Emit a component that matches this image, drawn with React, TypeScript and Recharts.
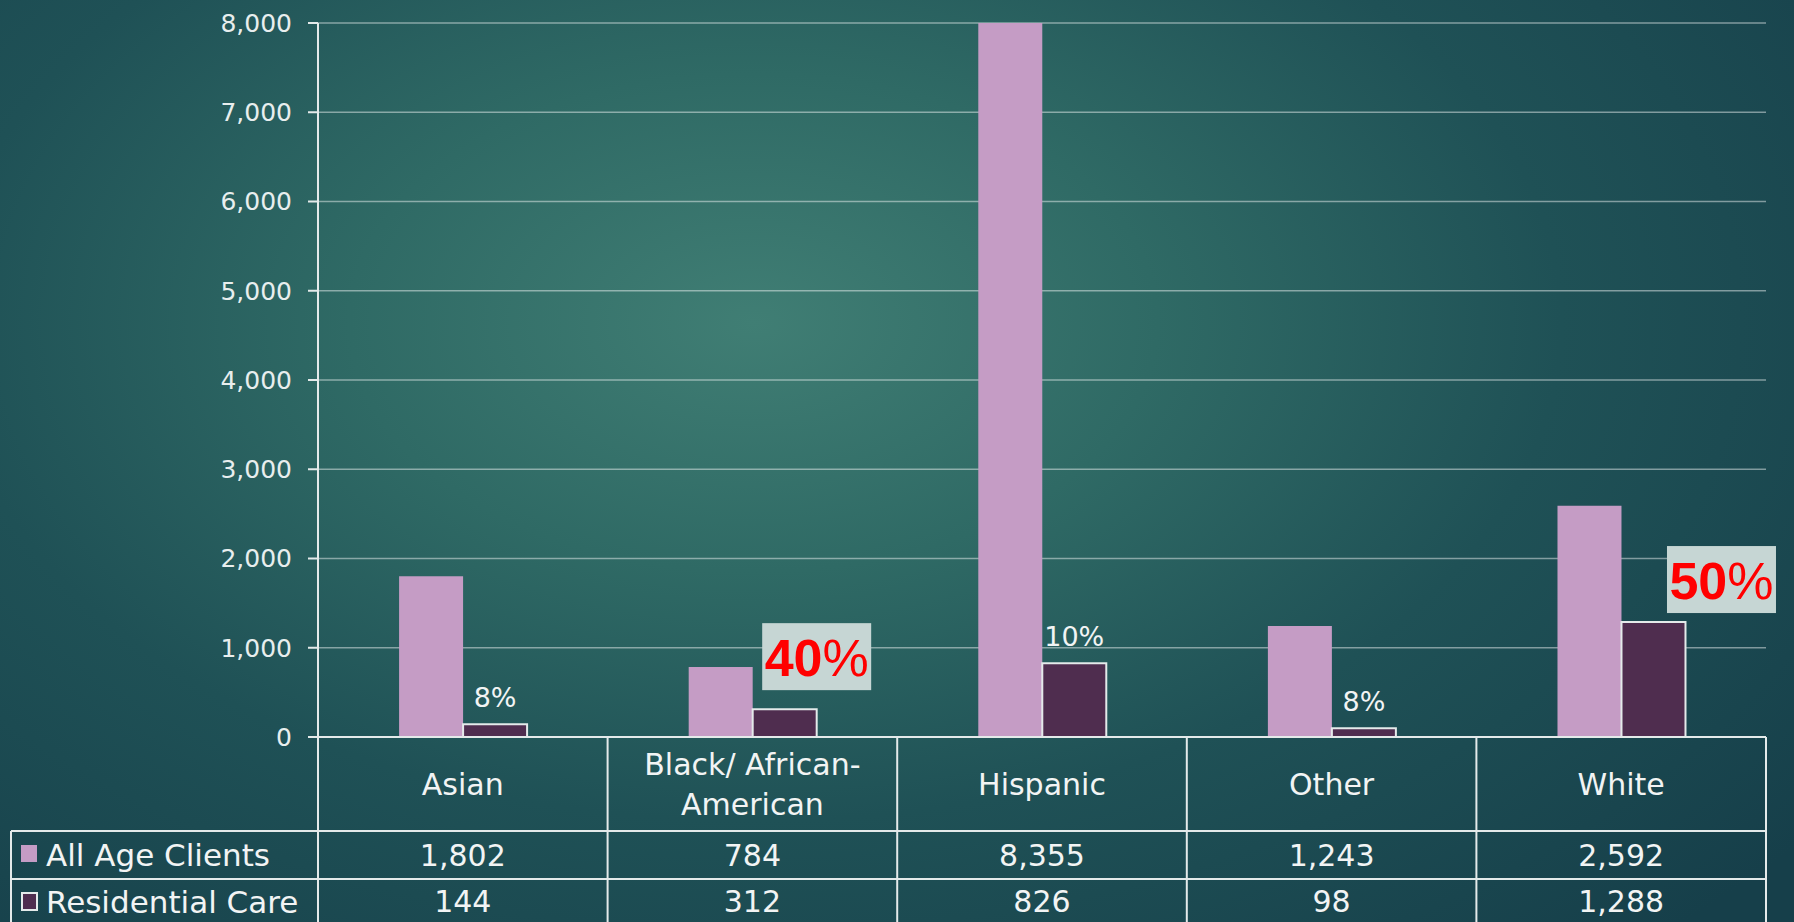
import React from 'react';
import { BarChart, Bar, XAxis, YAxis, CartesianGrid, LabelList } from 'recharts';

const categories = ['Asian', 'Black/ African-American', 'Hispanic', 'Other', 'White'];
const allAgeClients = [1802, 784, 8355, 1243, 2592];
const residentialCare = [144, 312, 826, 98, 1288];
const shareLabels = ['8%', '40%', '10%', '8%', '50%'];
const highlighted = [false, true, false, false, true];
const yTicks = [0, 1000, 2000, 3000, 4000, 5000, 6000, 7000, 8000];

const W = 1794;
const H = 922;
const MARGIN = { top: 23, right: 28, bottom: 0, left: 0 };
const Y_AXIS_W = 318;
const X_AXIS_H = 185;
const PLOT_LEFT = MARGIN.left + Y_AXIS_W;
const PLOT_RIGHT = W - MARGIN.right;
const ZERO_Y = H - X_AXIS_H;
const CELL_W = (PLOT_RIGHT - PLOT_LEFT) / categories.length;
const ROW1_Y = 831;
const ROW2_Y = 879;
const TABLE_LEFT = 11;

const FONT = "'DejaVu Sans', sans-serif";
const LINE = '#e4eaea';
const TEXT = '#f2f4f4';
const PINK = '#c59cc5';
const PLUM = '#4f2d4f';

const fmt = (v: number) => v.toLocaleString('en-US');

const chartData = categories.map((name, i) => ({
  name,
  all: allAgeClients[i],
  res: residentialCare[i],
}));

const wrapHeader = (s: string) => {
  const k = s.indexOf('-');
  if (k < 0) return [s];
  return [s.slice(0, k + 1), s.slice(k + 1)];
};

const TableTick = (props: any) => {
  const { x, payload } = props;
  const i = payload.index;
  const left = x - CELL_W / 2;
  const lines = wrapHeader(payload.value);
  const midHeader = (ZERO_Y + ROW1_Y) / 2;
  return (
    <g>
      {i === 0 && (
        <g>
          <line x1={TABLE_LEFT} y1={ROW1_Y} x2={PLOT_RIGHT} y2={ROW1_Y} stroke={LINE} strokeWidth={2} />
          <line x1={TABLE_LEFT} y1={ROW2_Y} x2={PLOT_RIGHT} y2={ROW2_Y} stroke={LINE} strokeWidth={2} />
          <line x1={TABLE_LEFT} y1={ROW1_Y} x2={TABLE_LEFT} y2={H} stroke={LINE} strokeWidth={2} />
          <line x1={left} y1={ZERO_Y} x2={left} y2={H} stroke={LINE} strokeWidth={2} />
          <rect x={21} y={845} width={16} height={17} fill={PINK} />
          <text x={46} y={866} fill={TEXT} fontSize={31} fontFamily={FONT}>All Age Clients</text>
          <rect x={22} y={893} width={15} height={17} fill={PLUM} stroke={LINE} strokeWidth={2} />
          <text x={46} y={913} fill={TEXT} fontSize={31} fontFamily={FONT}>Residential Care</text>
        </g>
      )}
      <line x1={left + CELL_W} y1={ZERO_Y} x2={left + CELL_W} y2={H} stroke={LINE} strokeWidth={2} />
      {lines.map((ln, k) => (
        <text
          key={k}
          x={x}
          y={midHeader + 11 + (k - (lines.length - 1) / 2) * 40}
          textAnchor="middle"
          fill={TEXT}
          fontSize={30}
          fontFamily={FONT}
        >
          {ln}
        </text>
      ))}
      <text x={x} y={(ROW1_Y + ROW2_Y) / 2 + 11} textAnchor="middle" fill={TEXT} fontSize={30} fontFamily={FONT}>
        {fmt(allAgeClients[i])}
      </text>
      <text x={x} y={(ROW2_Y + H) / 2 + 11} textAnchor="middle" fill={TEXT} fontSize={30} fontFamily={FONT}>
        {fmt(residentialCare[i])}
      </text>
    </g>
  );
};

// placement of the highlighted callout boxes relative to the bar top
const calloutShift: Record<number, { dx: number; dy: number }> = {
  1: { dx: 32, dy: -19 },
  4: { dx: 68, dy: -9 },
};

const ShareLabel = (props: any) => {
  const { x, y, width, index } = props;
  const cx = x + width / 2;
  const label = shareLabels[index];
  if (!highlighted[index]) {
    return (
      <text x={cx} y={y - 17} textAnchor="middle" fill={TEXT} fontSize={27} fontFamily={FONT}>
        {label}
      </text>
    );
  }
  const s = calloutShift[index] || { dx: 0, dy: -10 };
  const bw = 109;
  const bh = 67;
  const bx = cx + s.dx - bw / 2;
  const by = y + s.dy - bh;
  return (
    <g>
      <rect x={bx} y={by} width={bw} height={bh} fill="#c6d6d4" />
      <text
        x={bx + bw / 2}
        y={by + bh / 2 + 19}
        textAnchor="middle"
        fill="#ff0000"
        fontSize={52}
        fontFamily="'Liberation Sans', Arial, sans-serif"
        fontWeight="bold"
      >
        {label.replace('%', '')}
        <tspan fontWeight="normal">%</tspan>
      </text>
    </g>
  );
};

export default function App() {
  return (
    <div
      style={{
        position: 'absolute',
        left: 0,
        top: 0,
        width: W,
        height: H,
        overflow: 'hidden',
        background:
          'radial-gradient(ellipse 75% 90% at 42% 35%, #407e74 0%, #2f6a65 30%, #1f5156 60%, #163f4a 100%)',
      }}
    >
      <BarChart
        width={W}
        height={H}
        data={chartData}
        margin={MARGIN}
        barCategoryGap="28%"
        barGap={0}
        style={{ overflow: 'visible' }}
      >
        <CartesianGrid horizontal vertical={false} stroke="#ffffff" strokeOpacity={0.45} strokeWidth={1.5} />
        <YAxis
          width={Y_AXIS_W}
          domain={[0, 8000]}
          ticks={yTicks}
          allowDataOverflow
          tickFormatter={fmt}
          axisLine={{ stroke: LINE, strokeWidth: 2 }}
          tickLine={{ stroke: LINE, strokeWidth: 2 }}
          tickSize={10}
          tickMargin={16}
          tick={{ fill: '#e8eeee', fontSize: 25, fontFamily: FONT }}
        />
        <XAxis
          dataKey="name"
          height={X_AXIS_H}
          interval={0}
          axisLine={{ stroke: LINE, strokeWidth: 2 }}
          tickLine={false}
          tick={<TableTick />}
        />
        <Bar dataKey="all" fill={PINK} isAnimationActive={false} />
        <Bar dataKey="res" fill={PLUM} stroke={LINE} strokeWidth={2} isAnimationActive={false}>
          <LabelList dataKey="res" content={<ShareLabel />} />
        </Bar>
      </BarChart>
    </div>
  );
}
